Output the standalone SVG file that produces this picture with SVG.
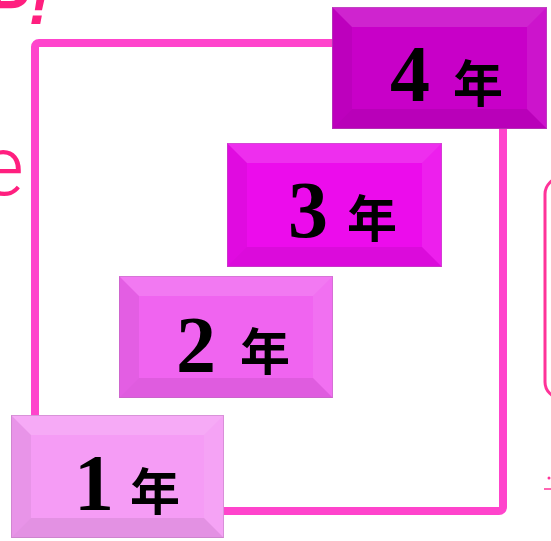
<svg xmlns="http://www.w3.org/2000/svg" width="551" height="541" viewBox="0 0 551 541">
<defs>
<style>
.loop{fill:none;stroke:#ff44cc;stroke-width:8}
.dig{font-family:"Liberation Serif",serif;font-weight:bold;font-size:80px;fill:#000}
.cjk{font-family:"Liberation Serif","Noto Sans CJK JP",serif;font-weight:bold;font-size:50px;fill:#000}
.hl{fill:#fff;opacity:0.14}
.hr{fill:#fff;opacity:0.08}
.sl{fill:#000;opacity:0.05}
.sb{fill:#000;opacity:0.07}
.edge{fill:none;stroke:#b070b0;stroke-width:1;opacity:0.4}
.pink{fill:#ff1f7f;font-family:"Liberation Sans",sans-serif}
</style>
</defs>
<text class="pink" x="-14" y="24" font-size="64" font-style="italic" font-weight="bold">P!</text>
<text class="pink" x="24" y="195" font-size="84" text-anchor="end" font-weight="300" style="font-family:Roboto,'Liberation Sans',sans-serif">e</text>
<rect x="545" y="178" width="40" height="220" rx="16" fill="none" stroke="#ff3399" stroke-width="3"/>
<line x1="544" y1="489" x2="551" y2="489" stroke="#ff3399" stroke-width="1.5"/>
<circle cx="549" cy="478" r="1.5" fill="#ff3399"/>
<g id="connectors">
<rect class="loop" x="35" y="43" width="468" height="468" rx="4"/>
</g>
<g id="node1">
<rect x="11" y="415" width="213" height="123" fill="#f59cf5"/>
<polygon class="hl" points="11,415 224,415 204,435 31,435"/>
<polygon class="sl" points="11,415 31,435 31,518 11,538"/>
<polygon class="hr" points="224,415 224,538 204,518 204,435"/>
<polygon class="sb" points="11,538 31,518 204,518 224,538"/>
<rect class="edge" x="11.5" y="415.5" width="212" height="122"/>
<text class="dig" x="74" y="510">1</text>
<text class="cjk" x="130" y="510">年</text>
</g>
<g id="node2">
<rect x="119" y="276" width="214" height="122" fill="#f064f0"/>
<polygon class="hl" points="119,276 333,276 313,296 139,296"/>
<polygon class="sl" points="119,276 139,296 139,378 119,398"/>
<polygon class="hr" points="333,276 333,398 313,378 313,296"/>
<polygon class="sb" points="119,398 139,378 313,378 333,398"/>
<rect class="edge" x="119.5" y="276.5" width="213" height="121"/>
<text class="dig" x="176" y="372">2</text>
<text class="cjk" x="240" y="370">年</text>
</g>
<g id="node3">
<rect x="227" y="143" width="215" height="124" fill="#ec0cec"/>
<polygon class="hl" points="227,143 442,143 422,163 247,163"/>
<polygon class="sl" points="227,143 247,163 247,247 227,267"/>
<polygon class="hr" points="442,143 442,267 422,247 422,163"/>
<polygon class="sb" points="227,267 247,247 422,247 442,267"/>
<rect class="edge" x="227.5" y="143.5" width="214" height="123"/>
<text class="dig" x="288" y="237">3</text>
<text class="cjk" x="347" y="237">年</text>
</g>
<g id="node4">
<rect x="332" y="7" width="215" height="122" fill="#c800c8"/>
<polygon class="hl" points="332,7 547,7 527,27 352,27"/>
<polygon class="sl" points="332,7 352,27 352,109 332,129"/>
<polygon class="hr" points="547,7 547,129 527,109 527,27"/>
<polygon class="sb" points="332,129 352,109 527,109 547,129"/>
<rect class="edge" x="332.5" y="7.5" width="214" height="121"/>
<text class="dig" x="390" y="101">4</text>
<text class="cjk" x="453" y="102">年</text>
</g>
</svg>
